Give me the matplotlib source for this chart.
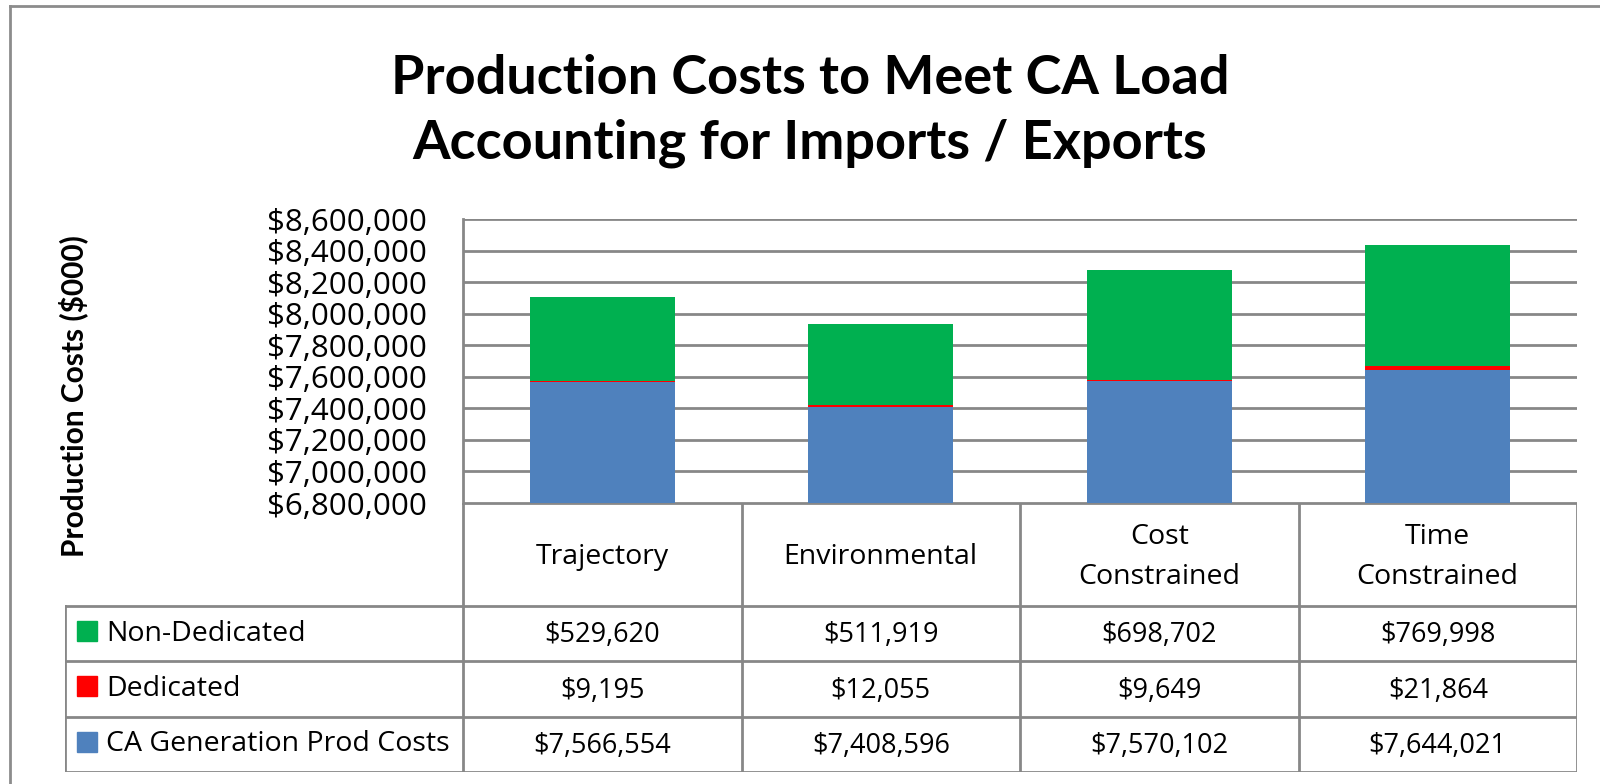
import numpy as np
import matplotlib.pyplot as plt
from matplotlib.lines import Line2D
from matplotlib.patches import Rectangle

plt.rcParams['font.family'] = ['Open Sans', 'DejaVu Sans']

# data (values in $000)
scenarios = ['Trajectory', 'Environmental', 'Cost\nConstrained', 'Time\nConstrained']
series = ['Non-Dedicated', 'Dedicated', 'CA Generation Prod Costs']
ca_gen = [7566554, 7408596, 7570102, 7644021]
dedicated = [9195, 12055, 9649, 21864]
non_dedicated = [529620, 511919, 698702, 769998]
colors = {'CA Generation Prod Costs': '#4F81BD', 'Dedicated': '#FF0000', 'Non-Dedicated': '#00B050'}
y_ticks = np.arange(6800000, 8600001, 200000)

grid_c = '#878787'
W, H = 1600, 784
fig = plt.figure(figsize=(16, 7.84), dpi=100)

# main plot area (pixel layout)
px_l, px_r, px_t, px_b = 463, 1577, 219, 503
ax = fig.add_axes([px_l / W, 1 - px_b / H, (px_r - px_l) / W, (px_b - px_t) / H])
x = np.arange(len(scenarios))
ca = np.array(ca_gen)
de = np.array(dedicated)
nd = np.array(non_dedicated)
bw = 0.52
ax.bar(x, ca - y_ticks[0], bw, bottom=y_ticks[0], color=colors['CA Generation Prod Costs'], zorder=3)
ax.bar(x, de, bw, bottom=ca, color=colors['Dedicated'], zorder=3)
ax.bar(x, nd, bw, bottom=ca + de, color=colors['Non-Dedicated'], zorder=3)
ax.set_xlim(-0.5, len(scenarios) - 0.5)
ax.set_ylim(y_ticks[0], y_ticks[-1])
ax.set_yticks(y_ticks)
ax.set_yticklabels(['${:,}'.format(v) for v in y_ticks], fontsize=22.5)
ax.tick_params(axis='y', length=0, pad=26)
ax.set_xticks([])
ax.yaxis.grid(True, color=grid_c, linewidth=2, zorder=0)
for s in ['top', 'right', 'bottom']:
    ax.spines[s].set_visible(False)
ax.spines['left'].set_color(grid_c)
ax.spines['left'].set_linewidth(2)

# data table under the plot
col_w = (px_r - px_l) / len(scenarios)
leg_left = 65
leg_w = (px_l - leg_left) / col_w
tb_b = 772
row_px = (tb_b - 606) / 3.0
hdr_h = (606 - px_b) / row_px
tax = fig.add_axes([leg_left / W, 1 - tb_b / H, (px_r - leg_left) / W, (tb_b - px_b) / H])
tax.set_xlim(-0.5 - leg_w, len(scenarios) - 0.5)
tax.set_ylim(hdr_h + 3, 0)
tax.axis('off')

lw = 2
x0, x1 = -0.5 - leg_w, len(scenarios) - 0.5
# horizontal lines
tax.add_line(Line2D([-0.5, x1], [0, 0], color=grid_c, lw=lw))
for k in range(4):
    tax.add_line(Line2D([x0, x1], [hdr_h + k, hdr_h + k], color=grid_c, lw=lw))
# vertical lines
tax.add_line(Line2D([x0, x0], [hdr_h, hdr_h + 3], color=grid_c, lw=lw))
for i in range(len(scenarios) + 1):
    tax.add_line(Line2D([i - 0.5, i - 0.5], [0, hdr_h + 3], color=grid_c, lw=lw))

fs = 20.5
for i, name in enumerate(scenarios):
    tax.text(i, hdr_h / 2 + 0.05, name, ha='center', va='center', fontsize=fs, linespacing=1.55)

rows = [non_dedicated, dedicated, ca_gen]
sq = 20 / row_px
for k, (name, vals) in enumerate(zip(series, rows)):
    yc = hdr_h + k + 0.5
    for i, v in enumerate(vals):
        tax.text(i, yc + 0.03, '${:,}'.format(v), ha='center', va='center', fontsize=19.5)
    sx = x0 + 12 / col_w
    tax.add_patch(Rectangle((sx, yc - 0.5 * sq - 0.05), 20 / col_w, sq, color=colors[name]))
    tax.text(x0 + 41 / col_w, yc, name, ha='left', va='center', fontsize=fs)

# title and axis label
fig.text(810 / W, 1 - 79 / H, 'Production Costs to Meet CA Load', ha='center', va='center',
         fontsize=39, fontweight='bold', family='Lato')
fig.text(810 / W, 1 - 143 / H, 'Accounting for Imports / Exports', ha='center', va='center',
         fontsize=39, fontweight='bold', family='Lato')
fig.text(73 / W, 1 - 396 / H, 'Production Costs ($000)', ha='center', va='center', rotation=90,
         fontsize=21.5, fontweight='bold', family='Lato')

# chart area frame
fig.add_artist(Line2D([10 / W, 1], [1 - 6 / H, 1 - 6 / H], color='#8c8c8c', lw=2))
fig.add_artist(Line2D([10 / W, 10 / W], [0, 1 - 6 / H], color='#8c8c8c', lw=2))

fig.savefig('out.png', dpi=100)
